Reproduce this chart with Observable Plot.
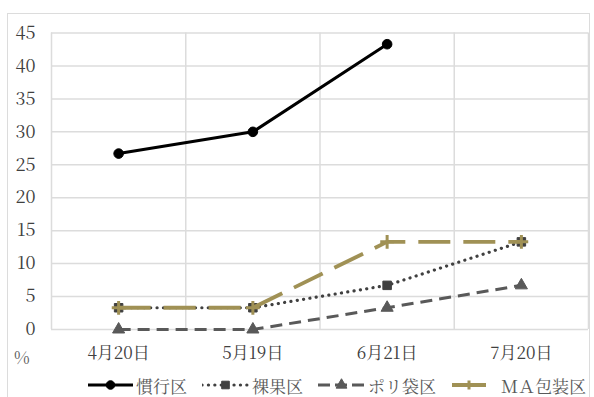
<!DOCTYPE html>
<html lang="ja">
<head>
<meta charset="utf-8">
<script src="https://cdn.jsdelivr.net/npm/d3@7"></script>
<script src="https://cdn.jsdelivr.net/npm/@observablehq/plot@0.6"></script>
<style>
  html, body { margin: 0; padding: 0; background: #fff; }
  #wrap { position: relative; width: 594px; height: 397px; overflow: hidden; }
  #box { position: absolute; left: 7px; top: 13px; width: 583px; height: 400px;
         border: 1.5px solid #dcdcdc; box-sizing: border-box; pointer-events: none; }
  #chart { position: absolute; left: 0; top: 0; }
  #unit { position: absolute; left: 14px; top: 344px; font-family: "Noto Serif CJK JP", "Noto Serif", "Times New Roman", Tinos, FreeSerif, serif; font-size: 17px; color: #595959; }
  #legend { position: absolute; left: 0; top: 373px; width: 594px; height: 24px; }
  .item { position: absolute; top: 0; height: 24px; display: flex; align-items: center;
          font-family: "Noto Serif CJK JP", "Noto Sans CJK JP", sans-serif; font-size: 17px; color: #595959; }
  .item svg { margin-right: 3px; }
</style>
</head>
<body>
<div id="wrap">
  <div id="chart"></div>
  <div id="unit">%</div>
  <div id="legend"></div>
  <div id="box"></div>
</div>
<script>
// survey dates (categories)
const dates = ["4月20日", "5月19日", "6月21日", "7月20日"];
// treatment names
const series = ["慣行区", "裸果区", "ポリ袋区", "ＭＡ包装区"];
// percentage per date for each treatment (null = not surveyed)
const kankoValues = [26.7, 30.0, 43.3, null];
const rakaValues = [3.3, 3.3, 6.7, 13.3];
const polyValues = [0, 0, 3.3, 6.7];
const maValues = [3.3, 3.3, 13.3, 13.3];
// y-axis tick values
const yTicks = [0, 5, 10, 15, 20, 25, 30, 35, 40, 45];

const valuesBySeries = [kankoValues, rakaValues, polyValues, maValues];

// drawing style per treatment
const styles = {
  "慣行区":   {stroke: "#000000", width: 3, dash: null, cap: "round", symbol: "circle", r: 4.8, fill: "#000000", legendW: 45},
  "裸果区":   {stroke: "#404040", width: 3.2, dash: "0.1 6.3", cap: "round", symbol: "square", r: 4.8, fill: "#404040", legendW: 47},
  "ポリ袋区": {stroke: "#595959", width: 3, dash: "12 7", cap: "butt", symbol: "triangle", r: 4.5, fill: "#595959", legendW: 47},
  "ＭＡ包装区": {stroke: "#a09155", width: 3.8, dash: "32 13", cap: "butt", symbol: "plus", r: 4.5, fill: "none", legendW: 34}
};

const rows = [];
series.forEach((s, k) => {
  valuesBySeries[k].forEach((v, i) => {
    if (v != null) rows.push({series: s, i, value: v});
  });
});

// category boundaries for the vertical grid
const boundaries = d3.range(dates.length + 1).map(i => i - 0.5);

const serif = "'Noto Serif CJK JP', 'Noto Serif', 'Times New Roman', Tinos, FreeSerif, 'Noto Sans CJK JP', serif";

const marks = [
  Plot.ruleY(yTicks, {y: d => d, stroke: "#dcdcdc", strokeWidth: 1.5}),
  Plot.ruleX(boundaries, {x: d => d, stroke: "#dcdcdc", strokeWidth: 1.5}),
  Plot.axisY({ticks: yTicks, tickSize: 0, tickPadding: 16, label: null,
              fontSize: 18, fontFamily: serif, fill: "#404040"}),
  Plot.axisX({ticks: d3.range(dates.length), tickFormat: i => dates[i], tickSize: 0,
              tickPadding: 17, label: null, fontSize: 17, fontFamily: serif, fill: "#404040"})
];

for (const s of series) {
  const st = styles[s];
  const data = rows.filter(d => d.series === s);
  marks.push(Plot.line(data, {
    x: "i", y: "value", stroke: st.stroke, strokeWidth: st.width,
    strokeDasharray: st.dash, strokeLinecap: st.cap, strokeLinejoin: "round"
  }));
  marks.push(Plot.dot(data, {
    x: "i", y: "value", symbol: st.symbol, r: st.r,
    fill: st.fill, stroke: st.stroke, strokeWidth: st.symbol === "plus" ? 3 : 1
  }));
}

const chart = Plot.plot({
  width: 594,
  height: 372,
  marginLeft: 51,
  marginRight: 6,
  marginTop: 32.5,
  marginBottom: 43,
  style: {fontFamily: serif, background: "transparent"},
  x: {type: "linear", domain: [-0.5, dates.length - 0.5], axis: null},
  y: {type: "linear", domain: [0, 45], axis: null},
  marks
});
document.getElementById("chart").appendChild(chart);

// legend below the plot
const legendX = [88, 202, 318, 452];
const legend = d3.select("#legend");
series.forEach((s, k) => {
  const st = styles[s];
  const item = legend.append("div").attr("class", "item").style("left", legendX[k] + "px");
  const w = st.legendW;
  const svg = item.append("svg").attr("width", w).attr("height", 24);
  svg.append("line")
    .attr("x1", 0).attr("x2", w).attr("y1", 12).attr("y2", 12)
    .attr("stroke", st.stroke).attr("stroke-width", st.width)
    .attr("stroke-dasharray", s === "ポリ袋区" ? "12 5" : s === "ＭＡ包装区" ? null : st.dash)
    .attr("stroke-linecap", st.cap);
  const sym = {circle: d3.symbolCircle, square: d3.symbolSquare, triangle: d3.symbolTriangle, plus: d3.symbolPlus}[st.symbol];
  const area = Math.PI * st.r * st.r * 0.8;
  svg.append("path")
    .attr("transform", `translate(${w / 2},12)`)
    .attr("d", st.symbol === "plus" ? "M-4.5,0H4.5M0,-4.5V4.5" : d3.symbol(sym, area)())
    .attr("fill", st.fill).attr("stroke", st.stroke)
    .attr("stroke-width", st.symbol === "plus" ? 3 : 1);
  item.append("span").text(s).style("margin-left", s === "ＭＡ包装区" ? "12px" : "0px");
});
</script>
</body>
</html>
